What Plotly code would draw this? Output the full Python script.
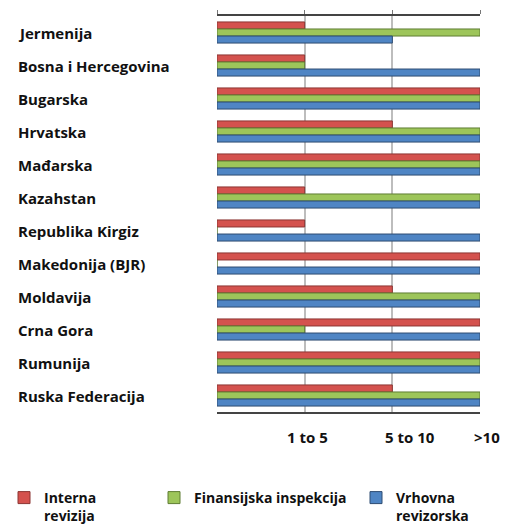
import plotly.graph_objects as go

countries = ["Jermenija", "Bosna i Hercegovina", "Bugarska", "Hrvatska", "Mađarska",
             "Kazahstan", "Republika Kirgiz", "Makedonija (BJR)", "Moldavija",
             "Crna Gora", "Rumunija", "Ruska Federacija"]
interna = [1, 1, 3, 2, 3, 1, 1, 3, 2, 3, 3, 2]
finansijska = [3, 1, 3, 3, 3, 3, 0, 0, 3, 1, 3, 3]
vrhovna = [2, 3, 3, 3, 3, 3, 3, 3, 3, 3, 3, 3]
series_names = ["Interna<br>revizija", "Finansijska inspekcija", "Vrhovna<br>revizorska"]
tick_vals = [1, 2, 3]
tick_text = ["1 to 5", "5 to 10", ">10"]
tick_label_pos = [1.03, 2.2, 3.08]

fill = ["#D4524E", "#9DC55A", "#4F85C4"]
edge = ["#8C3533", "#5F7D33", "#2E4C72"]
FONT = "Open Sans"
OFF = 8  # page body margin

fig = go.Figure()
legend_ids = ["legend", "legend2", "legend3"]
for vals, name, fc, ec, lg in zip([interna, finansijska, vrhovna], series_names, fill, edge, legend_ids):
    fig.add_trace(go.Bar(y=countries, x=vals, name=name, orientation="h",
                         marker=dict(color=fc, line=dict(color=ec, width=1)),
                         legend=lg, hoverinfo="x+y"))

L, R, T, B = 217 - OFF, 480 - OFF, 16 - OFF, 412 - OFF
W, H = 508 - OFF, 524 - OFF
W_PLOT = R - L
H_PLOT = B - T

def px_x(p):
    return (p - OFF - L) / W_PLOT

def px_y(p):
    return (B - (p - OFF)) / H_PLOT

annotations = []
for c in countries:
    annotations.append(dict(x=px_x(16), xref="paper", y=c, yref="y", text=c,
                            showarrow=False, xanchor="left", yanchor="middle",
                            font=dict(family=FONT, size=15, color="#111111", weight="bold")))
for pos, t in zip(tick_label_pos, tick_text):
    annotations.append(dict(x=pos / 3, xref="paper", y=px_y(437), yref="paper", text=t,
                            showarrow=False, xanchor="center", yanchor="middle",
                            font=dict(family=FONT, size=15, color="#111111", weight="bold")))

leg_common = dict(orientation="h", yanchor="top", xanchor="left", valign="top",
                  bgcolor="rgba(0,0,0,0)", borderwidth=0, itemwidth=30, tracegroupgap=0,
                  font=dict(family=FONT, size=14, color="#111111", weight="bold"))

fig.update_layout(
    width=W, height=H,
    margin=dict(l=L, r=W - R, t=T, b=H - B, pad=0, autoexpand=False),
    paper_bgcolor="white", plot_bgcolor="white",
    barmode="group", bargap=0.36, bargroupgap=0,
    showlegend=True,
    legend=dict(x=px_x(4), y=px_y(482), **leg_common),
    legend2=dict(x=px_x(154), y=px_y(482), **leg_common),
    legend3=dict(x=px_x(356), y=px_y(482), **leg_common),
    xaxis=dict(range=[0, 3], tickvals=[0] + tick_vals, showticklabels=False, side="top",
               showgrid=True, gridcolor="#BDBDBD", gridwidth=2, zeroline=False,
               showline=True, linecolor="#444444", linewidth=2, mirror=True,
               ticks="outside", ticklen=4, tickcolor="#777777", fixedrange=True),
    yaxis=dict(autorange="reversed", showticklabels=False, showgrid=False,
               zeroline=False, showline=False, ticks="", fixedrange=True),
    annotations=annotations,
)

fig.write_html("out.html")
